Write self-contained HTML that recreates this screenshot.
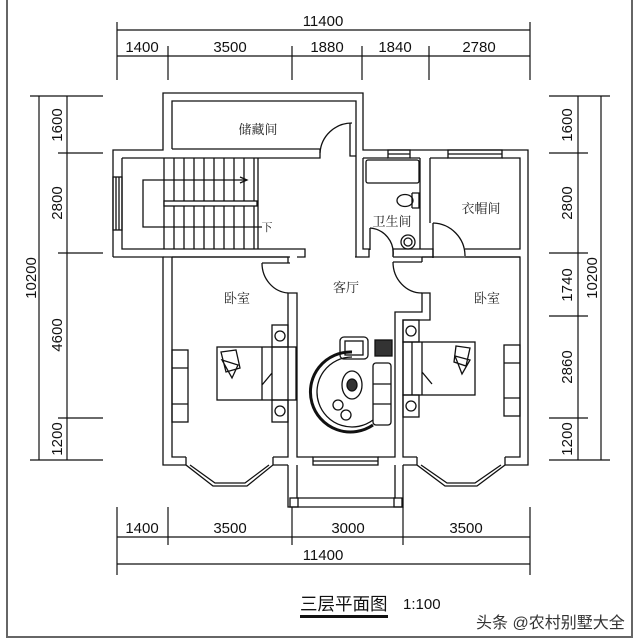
<!DOCTYPE html>
<html><head><meta charset="utf-8"><style>
html,body{margin:0;padding:0;background:#fff;}
svg{display:block;}
.d{font-family:"Liberation Sans",sans-serif;font-size:15px;fill:#111;}
.r{font-family:"Liberation Serif","Noto Serif CJK SC",serif;font-size:13px;fill:#222;}
</style></head><body>
<svg width="640" height="640" viewBox="0 0 640 640" xmlns="http://www.w3.org/2000/svg">
<rect x="0" y="0" width="640" height="640" fill="#fff"/>
<rect x="7" y="-2" width="625" height="639" fill="none" stroke="#666" stroke-width="2"/>
<g stroke="#111" stroke-width="1.2" fill="none">
<path d="M117,30 H530 M117,56 H530"/>
<path d="M117,22 V80 M168,46 V80 M292,46 V80 M362,46 V80 M429,46 V80 M530,22 V80"/>
<path d="M117,537 H530 M117,564 H530"/>
<path d="M117,507 V575 M168,507 V545 M292,507 V545 M403,507 V545 M530,507 V575"/>
<path d="M39,96 V460 M67,96 V460"/>
<path d="M30,96 H103 M58,153 H103 M58,253 H103 M58,418 H103 M30,460 H103"/>
<path d="M578,96 V460 M601,96 V460"/>
<path d="M549,96 H610 M549,153 H588 M549,253 H588 M549,316 H588 M549,418 H588 M549,460 H610"/>
</g>
<g class="d" text-anchor="middle">
<text x="323" y="26">11400</text>
<text x="142" y="52">1400</text><text x="230" y="52">3500</text><text x="327" y="52">1880</text><text x="395" y="52">1840</text><text x="479" y="52">2780</text>
<text x="142" y="533">1400</text><text x="230" y="533">3500</text><text x="348" y="533">3000</text><text x="466" y="533">3500</text>
<text x="323" y="560">11400</text>
<text transform="translate(62,125) rotate(-90)">1600</text>
<text transform="translate(62,203) rotate(-90)">2800</text>
<text transform="translate(62,335) rotate(-90)">4600</text>
<text transform="translate(62,439) rotate(-90)">1200</text>
<text transform="translate(36,278) rotate(-90)">10200</text>
<text transform="translate(572,125) rotate(-90)">1600</text>
<text transform="translate(572,203) rotate(-90)">2800</text>
<text transform="translate(572,285) rotate(-90)">1740</text>
<text transform="translate(572,367) rotate(-90)">2860</text>
<text transform="translate(572,439) rotate(-90)">1200</text>
<text transform="translate(597,278) rotate(-90)">10200</text>
</g>
<g stroke="#111" stroke-width="1.3" fill="none">
<path d="M113,257 V150 H163 V93 H363 V150 H528 V465 H505 M417,465 H403 M288,465 H273 M186,465 H163 V257 H113"/>
<path d="M172,149 V101 H356 V257"/>
<path d="M122,158 H320 V149 H172"/>
<path d="M350,123 V156 H356"/>
<path d="M320,153 A32,32 0 0 1 352,123"/>
<path d="M122,158 V249 H305 V257 H297 M163,257 H290"/>
<rect x="113" y="177" width="9" height="53"/>
<path d="M116,177 V230 M119,177 V230"/>
<path d="M164,158 V249 M174,158 V249 M184,158 V249 M194,158 V249 M204,158 V249 M214,158 V249 M224,158 V249 M234,158 V249 M244,158 V249 M254,158 V249 M258,158 V249"/>
<rect x="164" y="201" width="93" height="5" fill="#fff"/>
<path d="M247,180 H143 V227 H262"/>
<path d="M240,177 L247,180 L240,183"/>
<path d="M363,158 H388 M410,158 H420 M430,158 H448 M502,158 H520 V249 H465 M465,257 H520"/>
<rect x="388" y="150" width="22" height="8"/><path d="M388,154 H410"/>
<rect x="448" y="150" width="54" height="8"/><path d="M448,154 H502"/>
<path d="M363,158 V249 H369 V257 H355 M393,257 V249 H420 V158 M430,158 V223 M420,249 H433 V257 H393"/>
<path d="M433,223 V258"/>
<path d="M433,223 A33,33 0 0 1 465,256"/>
<path d="M370,228 V250"/>
<path d="M370,228 A25,25 0 0 1 393,256"/>
<rect x="366" y="160" width="53" height="23" rx="2"/>
<path d="M412,193 V208 M412,193 H419 V208 H412"/>
<ellipse cx="405" cy="200.5" rx="8" ry="6"/>
<circle cx="408" cy="242" r="7"/><circle cx="408" cy="242" r="4"/>
<path d="M172,257 V457 H186 M273,457 H288 V293 H297 V457 H313 M378,457 H395 V312 H422 V293 H430 V320 H403 V457 H417 M505,457 H520 V257 H422"/>
<path d="M172,257 H288 V263 M262,263 H290"/>
<path d="M262,263 A28,30 0 0 0 288,293"/>
<path d="M393,262 H422 M422,257 V262"/>
<path d="M393,262 A29,31 0 0 0 422,293"/>
<rect x="313" y="457" width="65" height="8"/><path d="M313,461 H378"/>
<path d="M186,457 V465 L213,486 H247 L273,465 V457"/>
<path d="M190,465 L215,483 H245 L269,465"/>
<path d="M417,457 V465 L445,486 H477 L505,465 V457"/>
<path d="M421,465 L447,483 H475 L501,465"/>
<path d="M288,465 V507 H403 V465 M297,465 V498 H395 V465"/>
<rect x="290" y="498" width="8" height="9"/><rect x="394" y="498" width="8" height="9"/>
<rect x="172" y="350" width="16" height="72"/><path d="M172,368 H188 M172,404 H188"/>
<rect x="217" y="347" width="79" height="53"/>
<path d="M262,347 V400 M272,347 V400 M262,385 L272,373"/>
<rect x="272" y="325" width="16" height="22"/><circle cx="280" cy="336" r="5"/>
<rect x="272" y="400" width="16" height="22"/><circle cx="280" cy="411" r="5"/>
<path d="M221,352 L236,350 L240,368 L226,372 Z M222,360 L238,365 L232,378 Z"/>
<rect x="504" y="345" width="16" height="71"/><path d="M504,363 H520 M504,398 H520"/>
<rect x="403" y="342" width="72" height="53"/>
<path d="M412,342 V395 M422,342 V395 M422,372 L432,384"/>
<rect x="403" y="320" width="16" height="22"/><circle cx="411" cy="331" r="5"/>
<rect x="403" y="395" width="16" height="22"/><circle cx="411" cy="406" r="5"/>
<path d="M456,346 L470,348 L466,366 L454,362 Z M455,356 L470,360 L462,374 Z"/>
<path d="M352,352 A40,40 0 1 0 373,425" stroke-width="3"/>
<path d="M352,357 A35,35 0 1 0 373,420"/>
<rect x="340" y="337" width="28" height="22" rx="4"/><rect x="345" y="341" width="18" height="14"/>
<rect x="373" y="363" width="18" height="62" rx="3"/><path d="M373,384 H391 M373,404 H391"/>
<rect x="375" y="340" width="17" height="16" fill="#333"/>
<ellipse cx="352" cy="385" rx="10" ry="14"/><ellipse cx="352" cy="385" rx="5" ry="6" fill="#333"/>
<circle cx="338" cy="405" r="5"/><circle cx="346" cy="415" r="5"/>
</g>
<g class="r" text-anchor="middle">
<text x="258" y="134">储藏间</text>
<text x="392" y="226">卫生间</text>
<text x="481" y="213">衣帽间</text>
<text x="267" y="231" font-size="11">下</text>
<text x="237" y="303">卧室</text>
<text x="346" y="292">客厅</text>
<text x="487" y="303">卧室</text>
</g>
<text x="300" y="610" font-family="Liberation Sans,'Noto Sans CJK SC',sans-serif" font-size="17.5" fill="#111">三层平面图</text>
<rect x="300" y="615" width="88" height="3" fill="#111"/>
<text x="403" y="609" font-family="Liberation Sans,sans-serif" font-size="15" fill="#111">1:100</text>
<text x="476" y="628" font-family="Liberation Sans,'Noto Sans CJK SC',sans-serif" font-size="16" fill="#333">头条 @农村别墅大全</text>
</svg>
</body></html>
